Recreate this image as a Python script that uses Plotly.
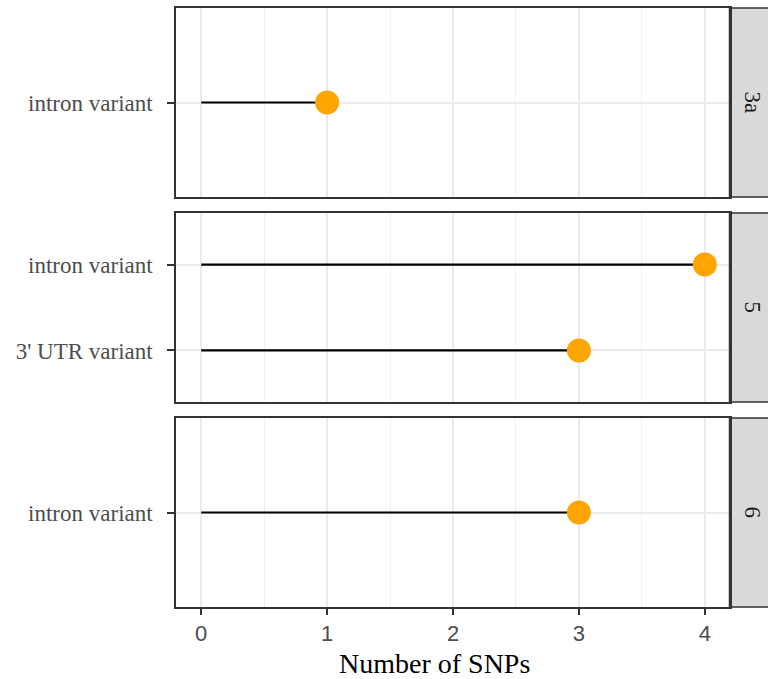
import plotly.graph_objects as go

# Data
facets = ["3a", "5", "6"]
categories = [["intron variant"], ["3' UTR variant", "intron variant"], ["intron variant"]]
snp_counts = [[1], [3, 4], [3]]
x_ticks = [0, 1, 2, 3, 4]
x_title = "Number of SNPs"

W, H = 768, 679
ml, mr, mt, mb = 176, 0, 8, 72
plot_w = W - ml - mr
plot_h = H - mt - mb
panel_right = (730 - ml) / plot_w

panels_px = [(8, 197), (213, 402), (418, 607)]
domains = [((607 - b) / plot_h, (607 - t) / plot_h) for t, b in panels_px]

serif = "Liberation Serif, Times New Roman, serif"
sans = "Liberation Sans, Arial, sans-serif"
ORANGE = "#FFA500"
BORDER = "#333333"

fig = go.Figure()
layout = dict(
    width=W, height=H,
    margin=dict(l=ml, r=mr, t=mt, b=mb),
    paper_bgcolor="white", plot_bgcolor="white",
    showlegend=False,
    shapes=[], annotations=[],
)

for i, (fac, cats, vals) in enumerate(zip(facets, categories, snp_counts)):
    n = i + 1
    xa = "x" if n == 1 else f"x{n}"
    ya = "y" if n == 1 else f"y{n}"
    xs, ys = [], []
    for c, v in zip(cats, vals):
        xs += [0, v, None]
        ys += [c, c, None]
    fig.add_trace(go.Scatter(x=xs, y=ys, mode="lines", xaxis=xa, yaxis=ya,
                             line=dict(color="black", width=2.2), hoverinfo="skip"))
    fig.add_trace(go.Scatter(x=vals, y=cats, mode="markers", xaxis=xa, yaxis=ya,
                             marker=dict(color=ORANGE, size=24, line=dict(width=0))))
    xkey = "xaxis" if n == 1 else f"xaxis{n}"
    ykey = "yaxis" if n == 1 else f"yaxis{n}"
    d0, d1 = domains[i]
    layout[xkey] = dict(
        domain=[0, panel_right], anchor=ya, range=[-0.2, 4.2],
        tickvals=x_ticks, ticktext=[str(t) for t in x_ticks],
        showticklabels=(n == 3), ticks="outside" if n == 3 else "",
        ticklen=6, tickwidth=1.6, tickcolor=BORDER,
        tickfont=dict(family=sans, size=22, color="#4d4d4d"),
        showgrid=True, gridcolor="#ebebeb", gridwidth=1.8,
        minor=dict(tickvals=[0.5, 1.5, 2.5, 3.5], showgrid=True, gridcolor="#f0f0f0", gridwidth=1),
        zeroline=False, showline=True, mirror=True, linecolor=BORDER, linewidth=1.5,
    )
    if n != 1:
        layout[xkey]["matches"] = "x"
    ncat = len(cats)
    layout[ykey] = dict(
        domain=[d0, d1], anchor=xa, type="category",
        categoryorder="array", categoryarray=cats,
        range=[-0.6, ncat - 1 + 0.6],
        ticks="outside", ticklen=7, tickwidth=1.6, tickcolor=BORDER,
        ticklabelstandoff=10,
        tickfont=dict(family=serif, size=23, color="#4d4d4d"),
        showgrid=True, gridcolor="#ebebeb", gridwidth=1.8,
        zeroline=False, showline=True, mirror=True, linecolor=BORDER, linewidth=1.5,
    )
    # strip
    layout["shapes"].append(dict(type="rect", xref="paper", yref="paper",
                                 x0=panel_right, x1=1.08, y0=d0, y1=d1,
                                 fillcolor="#d9d9d9", line=dict(color=BORDER, width=1.5),
                                 layer="below"))
    layout["shapes"].append(dict(type="line", xref="paper", yref="paper",
                                 x0=panel_right, x1=panel_right, y0=d0, y1=d1,
                                 line=dict(color=BORDER, width=2.5)))
    layout["annotations"].append(dict(text=fac, xref="paper", yref="paper",
                                      x=(752 - ml) / plot_w, y=(d0 + d1) / 2,
                                      showarrow=False, textangle=90,
                                      font=dict(family=serif, size=23, color="#1a1a1a"),
                                      xanchor="center", yanchor="middle"))

layout["annotations"].append(dict(text=x_title, xref="paper", yref="paper",
                                  x=(434 - ml) / plot_w, y=(607 - 663) / plot_h,
                                  showarrow=False, xanchor="center", yanchor="middle",
                                  font=dict(family=serif, size=28, color="black")))

fig.update_layout(**layout)
fig.write_html("out.html")
